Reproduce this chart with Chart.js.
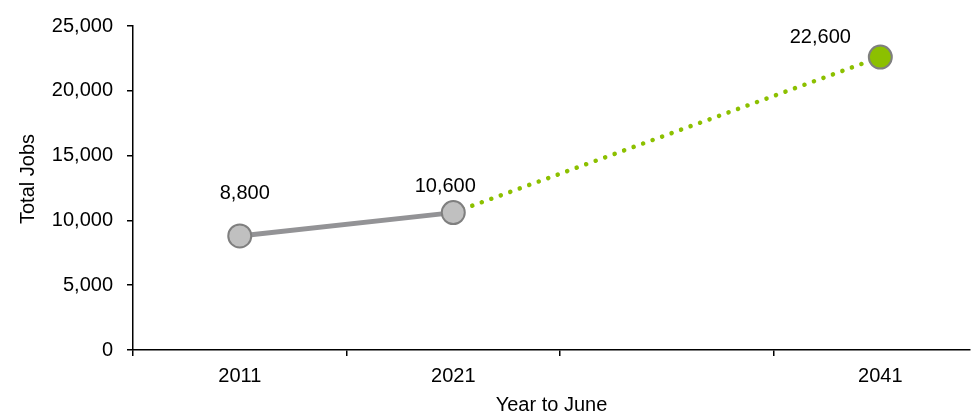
<!DOCTYPE html>
<html>
<head>
<meta charset="utf-8">
<script src="https://cdn.jsdelivr.net/npm/chart.js@4"></script>
<style>
    html, body { margin: 0; padding: 0; background: #fff; overflow: hidden; }
    #wrap { position: relative; width: 971px; height: 415px; }
</style>
</head>
<body>
<div id="wrap"><canvas id="jobsChart"></canvas></div>
<script>
// Emplois totaux (année à juin)
const years = [2011, 2021, 2031, 2041];
const yearLabels = ['2011', '2021', '', '2041'];
const actualYears = [2011, 2021];
const actualJobs = [8800, 10600];
const projYears = [2021, 2041];
const projJobs = [10600, 22600];
const yTicks = [0, 5000, 10000, 15000, 20000, 25000];

// décalage des étiquettes par rapport au point (px)
const labelOffsets = {
    actual: [[5, -42], [-8, -26]],
    proj: [null, [-60, -20]]
};

const FONT = "'Liberation Sans', Arial, sans-serif";
Chart.defaults.font.family = FONT;
Chart.defaults.font.size = 20;
Chart.defaults.color = '#000';

const valueLabels = {
    id: 'valueLabels',
    afterDatasetsDraw(chart) {
        const ctx = chart.ctx;
        ctx.save();
        ctx.font = '20px ' + FONT;
        ctx.fillStyle = '#000';
        ctx.textAlign = 'center';
        ctx.textBaseline = 'middle';
        chart.data.datasets.forEach((ds, di) => {
            const meta = chart.getDatasetMeta(di);
            const offs = labelOffsets[ds.key];
            meta.data.forEach((pt, i) => {
                if (!offs[i]) return;
                ctx.fillText(ds.data[i].y.toLocaleString('en-US'), pt.x + offs[i][0], pt.y + offs[i][1]);
            });
        });
        ctx.restore();
    }
};

// titre de l'axe Y, un peu au-dessus du centre
const yTitle = {
    id: 'yTitle',
    afterDraw(chart) {
        const { ctx, chartArea } = chart;
        ctx.save();
        ctx.font = '20px ' + FONT;
        ctx.fillStyle = '#000';
        ctx.textAlign = 'center';
        ctx.textBaseline = 'middle';
        ctx.translate(28, (chartArea.top + chartArea.bottom) / 2 - 9);
        ctx.rotate(-Math.PI / 2);
        ctx.fillText('Total Jobs', 0, 0);
        ctx.restore();
    }
};

new Chart(document.getElementById('jobsChart'), {
    type: 'line',
    data: {
        datasets: [
            {
                key: 'actual',
                data: actualYears.map((x, i) => ({ x: x, y: actualJobs[i] })),
                borderColor: '#939396',
                borderWidth: 5,
                pointRadius: 11.5,
                pointBackgroundColor: '#c0c0c0',
                pointBorderColor: '#7f7f7f',
                pointBorderWidth: 2,
                tension: 0
            },
            {
                key: 'proj',
                data: projYears.map((x, i) => ({ x: x, y: projJobs[i] })),
                borderColor: '#8cc000',
                borderWidth: 4.5,
                borderDash: [0.1, 10],
                borderCapStyle: 'round',
                pointRadius: [0, 11.5],
                pointBackgroundColor: '#8cc000',
                pointBorderColor: '#7f7f7f',
                pointBorderWidth: 2,
                tension: 0
            }
        ]
    },
    options: {
        responsive: true,
        maintainAspectRatio: false,
        animation: false,
        layout: { autoPadding: false, padding: { top: 22, right: 1, left: 0, bottom: 0 } },
        plugins: {
            legend: { display: false },
            tooltip: { enabled: false }
        },
        scales: {
            x: {
                type: 'linear',
                min: 2006,
                max: 2045.2,
                afterBuildTicks: (scale) => { scale.ticks = years.map(v => ({ value: v })); },
                afterFit: (scale) => {
                    scale.height = 65;
                    scale.paddingLeft = 0;
                    scale.paddingRight = 0;
                },
                ticks: {
                    autoSkip: false,
                    maxRotation: 0,
                    padding: 8,
                    callback: (v) => yearLabels[years.indexOf(v)]
                },
                grid: {
                    offset: true,
                    drawOnChartArea: false,
                    drawTicks: true,
                    tickLength: 6,
                    color: '#000',
                    lineWidth: 1.5
                },
                border: { display: true, color: '#000', width: 1.5 },
                title: {
                    display: true,
                    text: 'Year to June',
                    font: { size: 20 },
                    padding: { top: 0, bottom: -2 }
                }
            },
            y: {
                min: 0,
                max: 25000,
                afterBuildTicks: (scale) => { scale.ticks = yTicks.map(v => ({ value: v })); },
                afterFit: (scale) => { scale.width = 133; },
                ticks: {
                    padding: 14,
                    callback: (v) => v.toLocaleString('en-US')
                },
                grid: {
                    drawOnChartArea: false,
                    drawTicks: true,
                    tickLength: 6,
                    color: '#000',
                    lineWidth: 1.5
                },
                border: { display: true, color: '#000', width: 1.5 }
            }
        }
    },
    plugins: [valueLabels, yTitle]
});
</script>
</body>
</html>
